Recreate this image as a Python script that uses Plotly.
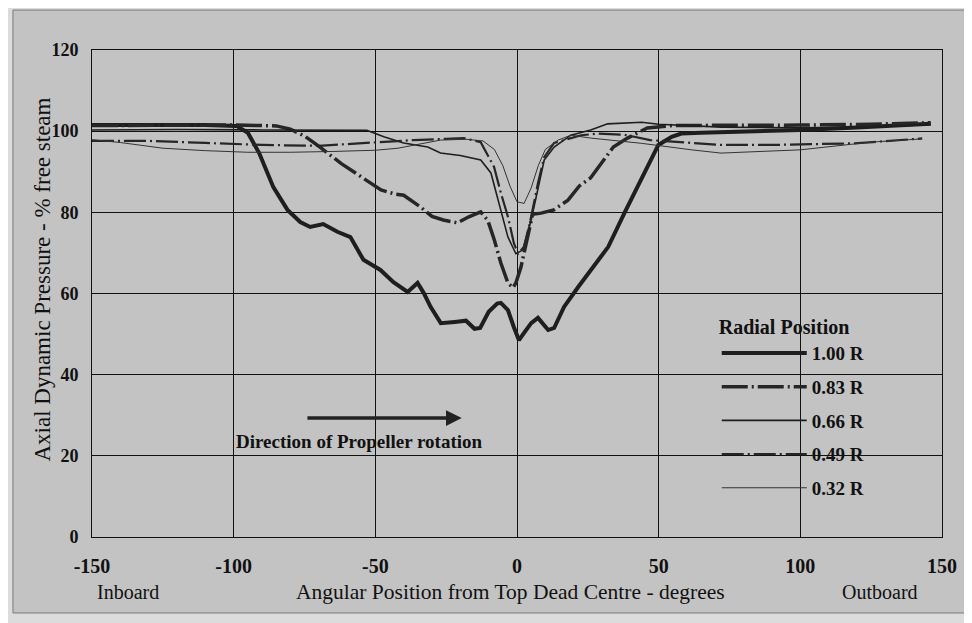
import plotly.graph_objects as go

# ---- data ----
x_100 = [-150, -130, -110, -99, -95, -91, -86, -81, -76.5, -73, -68.4, -63.4, -58.8, -54.2, -48.2,
         -43.6, -38.6, -35.1, -32.9, -30.5, -26.9, -22, -18, -15, -13, -10, -7, -5.7, -3.2, -1.1,
         0.7, 2.5, 5, 7.4, 11, 13.1, 16.6, 21.6, 26.2, 32.2, 37.9, 43.9, 49.9, 54.6, 58, 65, 80,
         100, 120, 146]
y_100 = [101.5, 101.6, 101.5, 101.3, 99.6, 94.6, 86.2, 80.6, 77.6, 76.4, 77.1, 75.2, 73.9, 68.3, 65.8,
         62.8, 60.4, 62.6, 60.1, 56.7, 52.7, 53, 53.3, 51.3, 51.5, 55.5, 57.5, 57.7, 55.9, 51.7,
         48.5, 50.3, 52.7, 54.0, 51.0, 51.5, 56.7, 61.6, 65.8, 71.5, 79.8, 88.0, 96.6, 98.6, 99.4, 99.6, 99.8,
         100.3, 100.9, 101.8]

x_083 = [-150, -120, -100, -85, -80, -75, -70, -62, -55, -48, -43, -40, -34, -30, -26, -21, -17,
         -12.8, -10.3, -8, -5.7, -3.2, -1.4, -0.4, 1.4, 3.5, 5.5, 8.5, 13, 18, 22, 26, 30, 34, 39,
         46, 55, 80, 100, 125, 146]
y_083 = [101.4, 101.5, 101.5, 101.3, 100.5, 98.8, 96.3, 92, 88.7, 85.5, 84.5, 84.2, 81.3, 79, 78.1, 77.4, 78.9,
         80.1, 78, 73.2, 67.5, 62.6, 61.4, 62.6, 66.5, 73.5, 79.5, 79.8, 80.6, 83, 86.5, 88.5, 92.2, 96.1, 98.3,
         100.8, 101.4, 101.4, 101.5, 101.7, 102.1]

x_066 = [-150, -120, -90, -70, -53, -47, -40, -31.5, -27, -20, -12.8, -9.2, -5.7, -3.2, -0.4, 2,
         5, 7.4, 9.6, 13.1, 19, 26, 32, 44, 50, 72, 100, 125, 146]
y_066 = [100.3, 100.4, 100.3, 100.3, 100.2, 98.6, 97.1, 96.1, 94.6, 94, 92.9, 89.7, 80.6, 73.9, 69.8, 70.7,
         78.1, 86.2, 92.9, 96.1, 99, 100.3, 101.8, 102.2, 101.7, 101, 100.8, 101.1, 101.6]

x_049 = [-150, -130, -110, -90, -70, -56, -48, -36.5, -25, -18.8, -12.8, -8.1, -5.7, -3.2, -1.1, 0.4,
         2.5, 5, 7.4, 9.6, 13.1, 22.7, 28.7, 38, 47, 62, 72, 90, 119, 143]
y_049 = [97.6, 97.6, 97.1, 96.6, 96.4, 97.0, 97.3, 97.8, 98.1, 98.3, 97.3, 91.2, 84.8, 78.9, 72.4, 69.8,
         71.5, 78.9, 87.2, 93.6, 97.1, 99, 99.4, 99.1, 97.8, 97.0, 96.6, 96.6, 97.0, 98.2]

x_032 = [-150, -140, -125, -110, -95, -80, -65, -50, -42, -35, -27, -18, -12, -8, -5, -2.5, 0, 2.5,
         5, 7.5, 10, 14.5, 19, 26, 44, 61.6, 72, 100, 125, 143]
y_032 = [97.9, 97.2, 95.8, 95.2, 94.8, 94.8, 95.0, 95.3, 95.8, 96.8, 97.8, 98.0, 97.6, 95.5, 91.5, 86.5, 82.6, 82.2,
         86, 91.5, 95.5, 97.8, 99, 98.3, 97, 95.4, 94.6, 95.4, 97.3, 98.1]

legend_names = ["1.00 R", "0.83 R", "0.66 R", "0.49 R", "0.32 R"]
x_ticks = [-150, -100, -50, 0, 50, 100, 150]
y_ticks = [0, 20, 40, 60, 80, 100, 120]

INK = "#1e1e1e"
BG = "#c3c3c3"
SERIF = "Liberation Serif"

series = [
    (x_100, y_100, dict(color=INK, width=4, dash="solid")),
    (x_083, y_083, dict(color="#262626", width=3.5, dash="26px,4px,2px,4px")),
    (x_066, y_066, dict(color=INK, width=1.6, dash="solid")),
    (x_049, y_049, dict(color="#262626", width=2.2, dash="22px,4px,2px,4px")),
    (x_032, y_032, dict(color="#333333", width=1.0, dash="solid")),
]

fig = go.Figure()
for i, ((xs, ys, ln), name) in enumerate(zip(series, legend_names)):
    fig.add_trace(go.Scatter(x=xs, y=ys, mode="lines", name=f"<b>{name}</b>", line=ln,
                             legendgroup=f"g{i}"))

# the page body adds an 8px offset, so margins are shifted to compensate
fig.update_layout(
    width=972, height=623,
    margin=dict(l=84, r=38, t=42, b=94),
    paper_bgcolor="#dcdcdc",
    plot_bgcolor=BG,
    font=dict(family=SERIF, color="#111111"),
    showlegend=True,
    legend=dict(
        x=0.735, y=0.47, xanchor="left", yanchor="top",
        bgcolor="rgba(0,0,0,0)",
        font=dict(family=SERIF, size=19, color="#111111"),
        title=dict(text="<b>Radial Position</b>", font=dict(family=SERIF, size=20)),
        traceorder="grouped", tracegroupgap=6,
        itemwidth=85,
    ),
    xaxis=dict(
        range=[-150, 150], tickvals=x_ticks, ticktext=[f"<b>{v}</b>" for v in x_ticks],
        showgrid=True, gridcolor="#111111", gridwidth=1, automargin=False,
        zeroline=False, showline=True, linecolor="#111111", linewidth=1, mirror=True,
        ticks="", ticklabelstandoff=11,
        tickfont=dict(family=SERIF, size=20, color="#111111"),
    ),
    yaxis=dict(
        range=[0, 120], tickvals=y_ticks, ticktext=[f"<b>{v}</b>" for v in y_ticks],
        showgrid=True, gridcolor="#111111", gridwidth=1, automargin=False,
        zeroline=False, showline=True, linecolor="#111111", linewidth=1, mirror=True,
        ticks="", ticklabelstandoff=9,
        tickfont=dict(family=SERIF, size=18, color="#111111"),
    ),
    shapes=[dict(type="rect", xref="paper", yref="paper", x0=-0.093, x1=1.033, y0=-0.156, y1=1.082,
                 fillcolor=BG, line=dict(color="#7a7a7a", width=1), layer="below")],
    annotations=[
        dict(text="Angular Position from Top Dead Centre - degrees", xref="paper", yref="paper",
             x=0.492, y=-0.113, showarrow=False, xanchor="center", yanchor="middle",
             font=dict(family=SERIF, size=21.5, color="#111111")),
        dict(text="Axial Dynamic Pressure - % free steam", xref="paper", yref="paper",
             x=-0.058, y=0.528, showarrow=False, textangle=-90, xanchor="center", yanchor="middle",
             font=dict(family=SERIF, size=23, color="#111111")),
        dict(text="Inboard", xref="paper", yref="paper", x=0.042, y=-0.113, showarrow=False,
             xanchor="center", yanchor="middle",
             font=dict(family=SERIF, size=20, color="#111111")),
        dict(text="Outboard", xref="paper", yref="paper", x=0.927, y=-0.113, showarrow=False,
             xanchor="center", yanchor="middle",
             font=dict(family=SERIF, size=20, color="#111111")),
        dict(text="<b>Direction of Propeller rotation</b>", x=-55.5, y=23.6, xref="x", yref="y",
             showarrow=False, xanchor="center", yanchor="middle",
             font=dict(family=SERIF, size=19, color="#111111")),
        dict(x=-19.5, y=29.3, ax=-74.5, ay=29.3, xref="x", yref="y", axref="x", ayref="y",
             text="", showarrow=True, arrowhead=2, arrowsize=0.9, arrowwidth=3.5, arrowcolor="#222222"),
    ],
)

fig.write_html("out.html")
